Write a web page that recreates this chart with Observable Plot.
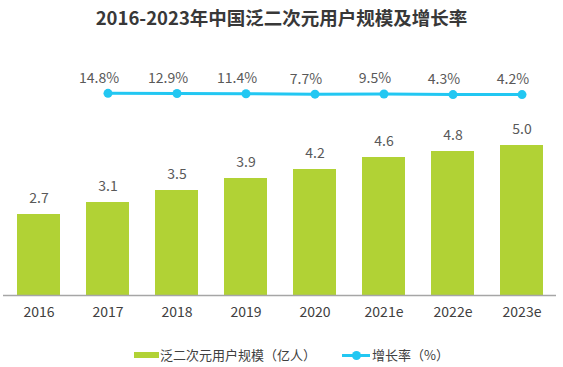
<!DOCTYPE html>
<html>
<head>
<meta charset="utf-8">
<script src="https://cdn.jsdelivr.net/npm/d3@7"></script>
<script src="https://cdn.jsdelivr.net/npm/@observablehq/plot@0.6"></script>
<style>
  html, body { margin: 0; padding: 0; background: #fff; }
  body { width: 563px; height: 367px; overflow: hidden; font-family: "Noto Sans CJK SC", "Noto Sans", sans-serif; }
  #title { height: 34px; line-height: 34px; text-align: center; font-size: 18.5px; font-weight: bold; color: #383838; }
  #chart svg { display: block; }
  #legend { box-sizing: border-box; height: 33px; padding-top: 8px; padding-left: 20px; display: flex; justify-content: center; align-items: center; font-size: 13px; color: #404040; }
  .item { display: flex; align-items: center; margin: 0 13px; }
  .sw-bar { width: 25px; height: 6px; background: #b1d235; margin-right: 1px; }
  .sw-line { position: relative; width: 28px; height: 10px; margin-right: 2px; }
  .sw-line::before { content: ""; position: absolute; left: 0; right: 0; top: 4px; height: 3px; background: #22c7f2; }
  .sw-line::after { content: ""; position: absolute; left: 10px; top: 1px; width: 9px; height: 9px; border-radius: 50%; background: #22c7f2; }
</style>
</head>
<body>
<div id="title">2016-2023年中国泛二次元用户规模及增长率</div>
<div id="chart"></div>
<div id="legend">
  <div class="item"><div class="sw-bar"></div><span>泛二次元用户规模（亿人）</span></div>
  <div class="item"><div class="sw-line"></div><span>增长率（%）</span></div>
</div>
<script>
const years = ["2016", "2017", "2018", "2019", "2020", "2021e", "2022e", "2023e"];
const users = [2.7, 3.1, 3.5, 3.9, 4.2, 4.6, 4.8, 5.0];
const rateYears = ["2017", "2018", "2019", "2020", "2021e", "2022e", "2023e"];
const rates = [14.8, 12.9, 11.4, 7.7, 9.5, 4.3, 4.2];

const barData = years.map((y, i) => ({year: y, value: users[i]}));
// secondary axis for growth rate, mapped onto the primary y units
const rateAxis = d3.scaleLinear([0, 100], [6.68, 7.08]);
const lineData = rateYears.map((y, i) => ({year: y, rate: rates[i], yv: rateAxis(rates[i])}));

const font = "'Noto Sans CJK SC', 'Noto Sans', sans-serif";

const chart = Plot.plot({
  width: 563,
  height: 300,
  marginLeft: 3,
  marginRight: 7,
  marginTop: 20,
  marginBottom: 39,
  style: {fontFamily: font, fontSize: "14px", color: "#404040", background: "#fff"},
  x: {type: "band", domain: years, paddingInner: 0.377, paddingOuter: 0.19, label: null},
  y: {domain: [0, 241 / 30], axis: null},
  marks: [
    Plot.barY(barData, {x: "year", y: "value", fill: "#b1d235"}),
    Plot.ruleY([0], {stroke: "#a6a6a6", strokeWidth: 1.5}),
    Plot.text(barData, {x: "year", y: "value", text: d => d.value.toFixed(1), dy: -16, fill: "#595959", fontSize: 14}),
    Plot.axisX({tickSize: 0, tickPadding: 12, fontSize: 14, fill: "#404040"}),
    Plot.line(lineData, {x: "year", y: "yv", stroke: "#22c7f2", strokeWidth: 3}),
    Plot.dot(lineData, {x: "year", y: "yv", r: 4.5, fill: "#22c7f2"}),
    Plot.text(lineData, {x: "year", y: "yv", text: d => d.rate.toFixed(1) + "%", dy: -15, dx: -9, fill: "#595959", fontSize: 14})
  ]
});
document.getElementById("chart").appendChild(chart);
</script>
</body>
</html>
